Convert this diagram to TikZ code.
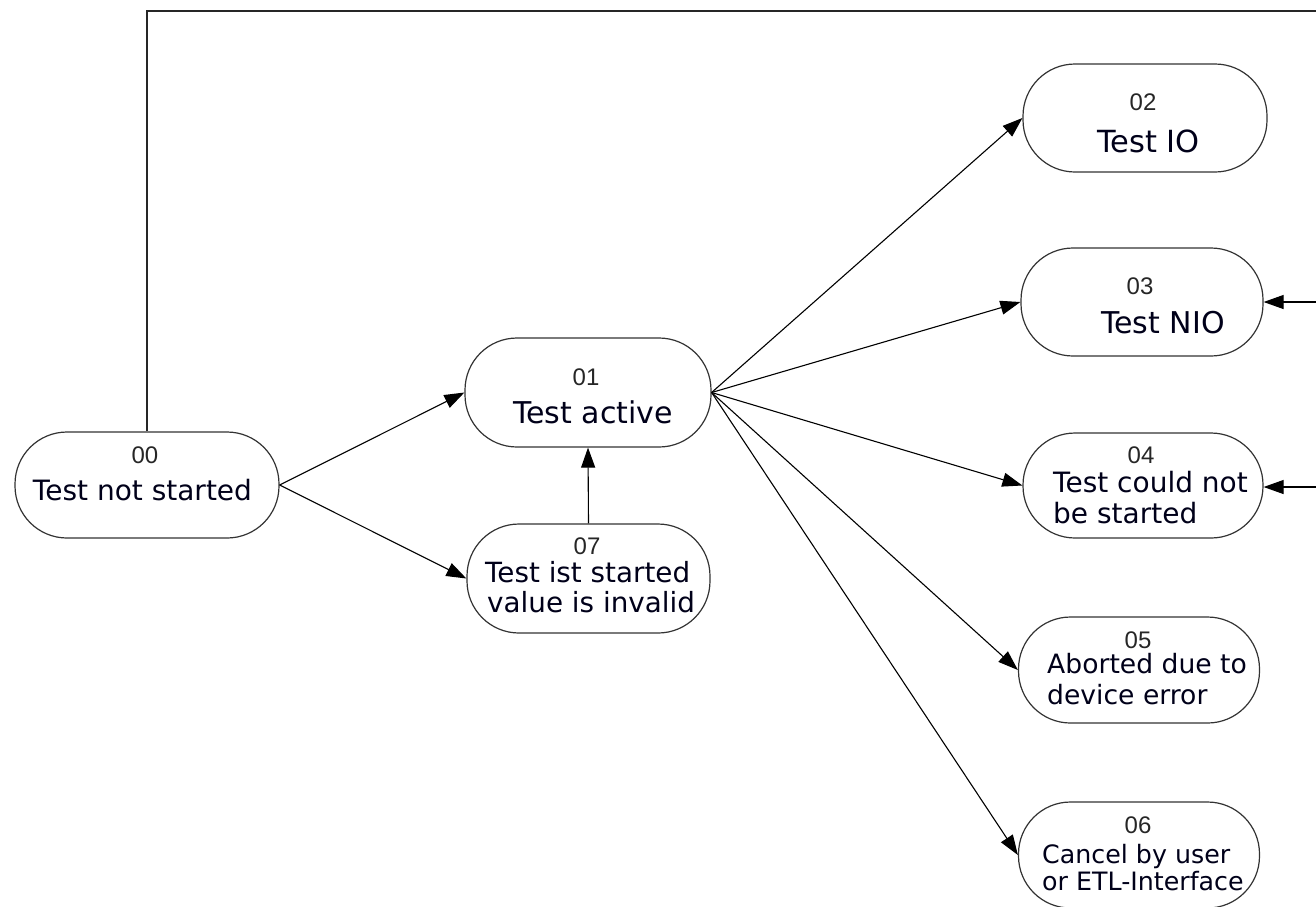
\documentclass[tikz,border=0pt]{standalone}
\usepackage{fontspec}
\setmainfont{DejaVu Sans}
\newfontfamily\numfont{Liberation Sans}
\usetikzlibrary{arrows.meta}
\newcommand{\fsz}[1]{\fontsize{#1}{#1}\selectfont}
\begin{document}
\begin{tikzpicture}[x=1pt,y=-1pt,
  state/.style={draw=black!80, line width=1.2pt, rectangle, rounded corners=52pt, inner sep=0pt},
  num/.style={font=\numfont\fsz{24}, text=black!85, anchor=base, inner sep=0pt},
  lblc/.style={text=black!90!blue, anchor=base, inner sep=0pt},
  lblleft/.style={text=black!90!blue, anchor=base west, inner sep=0pt},
  conn/.style={draw=black, line width=1.1pt, -{Triangle[length=20pt,width=14pt]}},
  plainline/.style={draw=black!85, line width=1.2pt}]
\useasboundingbox (0,0) rectangle (1316,906);

% states
\node[state, minimum width=264pt, minimum height=106pt] (n00) at (147,485) {};
\node[state, minimum width=246pt, minimum height=109pt] (n01) at (588,392.5) {};
\node[state, minimum width=243pt, minimum height=109pt] (n07) at (588.5,578.5) {};
\node[state, minimum width=244pt, minimum height=108pt] (n02) at (1145,118) {};
\node[state, minimum width=242pt, minimum height=108pt] (n03) at (1142,302) {};
\node[state, minimum width=240pt, minimum height=105pt] (n04) at (1143,485.5) {};
\node[state, minimum width=241pt, minimum height=106pt] (n05) at (1139,670) {};
\node[state, minimum width=241pt, minimum height=106pt] (n06) at (1139,855) {};

% texts
\node[num] (t00a) at (145,463) {00};
\node[lblc, font=\fsz{28}] (t00b) at (142.5,500) {Test not started};

\node[num] (t01a) at (586,385) {01};
\node[lblc, font=\fsz{30}] (t01b) at (593,423) {Test active};

\node[num] (t07a) at (587,554) {07};
\node[lblleft, font=\fsz{27.8}] (t07b) at (485,582) {Test ist started};
\node[lblleft, font=\fsz{27.8}] (t07c) at (487,612) {value is invalid};

\node[num] (t02a) at (1143,110) {02};
\node[lblc, font=\fsz{30.5}] (t02b) at (1148.5,152) {Test IO};

\node[num] (t03a) at (1140,294) {03};
\node[lblc, font=\fsz{30}] (t03b) at (1163,333) {Test NIO};

\node[num] (t04a) at (1141,463) {04};
\node[lblleft, font=\fsz{28}] (t04b) at (1053,492) {Test could not};
\node[lblleft, font=\fsz{28}] (t04c) at (1053,523) {be started};

\node[num] (t05a) at (1138,648) {05};
\node[lblleft, font=\fsz{26.6}] (t05b) at (1047,673) {Aborted due to};
\node[lblleft, font=\fsz{26.6}] (t05c) at (1047,704) {device error};

\node[num] (t06a) at (1138,833) {06};
\node[lblleft, font=\fsz{25.3}] (t06b) at (1042,863) {Cancel by user};
\node[lblleft, font=\fsz{25.3}] (t06c) at (1042,890) {or ETL-Interface};

% connectors
\draw[conn] (n00.east) -- (n01.west);
\draw[conn] (n00.east) -- (n07.west);
\draw[conn] (n07.north) -- (n01.south);
\foreach \t in {n02,n03,n04,n05,n06} \draw[conn] (n01.east) -- (\t.west);

\coordinate (r3) at (1320,302);
\coordinate (r4) at (1320,487);
\draw[conn] (r3) -- (n03.east);
\draw[conn] (r4) -- (n04.east |- r4);

\coordinate (topL) at (147,11);
\coordinate (topR) at (1320,11);
\draw[plainline] (n00.north) -- (topL) -- (topR);
\end{tikzpicture}
\end{document}
